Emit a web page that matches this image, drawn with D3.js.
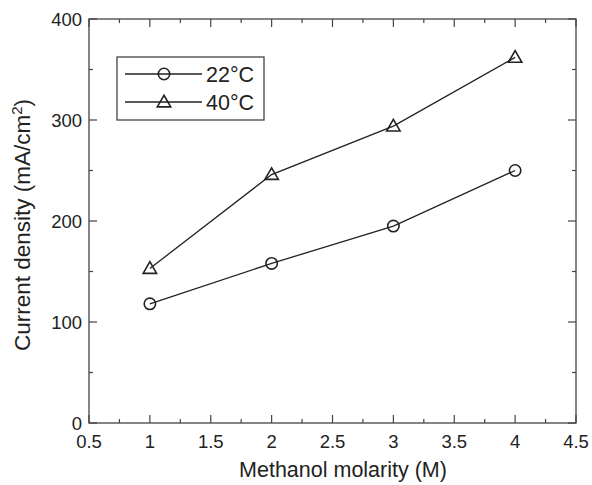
<!DOCTYPE html>
<html><head><meta charset="utf-8">
<script src="https://cdn.jsdelivr.net/npm/d3@7"></script>
<style>body{margin:0;background:#fff}svg{display:block;font-family:"Liberation Sans",Arial,sans-serif}</style>
</head><body><svg id="c" width="592" height="485"></svg>
<script>
const molarity = [1, 2, 3, 4];
const series22 = [118, 158, 195, 250];
const series40 = [153, 246, 294, 362];
const seriesNames = ["22°C", "40°C"];
const xTicks = [0.5, 1, 1.5, 2, 2.5, 3, 3.5, 4, 4.5];
const yTicks = [0, 100, 200, 300, 400];

const svg = d3.select("#c");
const L = 89, R = 576, T = 19, B = 423;
const x = d3.scaleLinear().domain([0.5, 4.5]).range([L, R]);
const y = d3.scaleLinear().domain([0, 400]).range([B, T]);
const col = "#222";

// frame
svg.append("rect").attr("x", L).attr("y", T).attr("width", R - L).attr("height", B - T)
  .attr("fill", "none").attr("stroke", "#444").attr("stroke-width", 1.3);

const xMinor = d3.range(0.75, 4.5, 0.5);
const yMinor = d3.range(50, 400, 100);
const tk = svg.append("g").attr("stroke", "#444").attr("stroke-width", 1.2);
xTicks.forEach(v => {
  tk.append("line").attr("x1", x(v)).attr("x2", x(v)).attr("y1", B).attr("y2", B - 8);
  tk.append("line").attr("x1", x(v)).attr("x2", x(v)).attr("y1", T).attr("y2", T + 8);
});
xMinor.forEach(v => {
  tk.append("line").attr("x1", x(v)).attr("x2", x(v)).attr("y1", B).attr("y2", B - 4);
  tk.append("line").attr("x1", x(v)).attr("x2", x(v)).attr("y1", T).attr("y2", T + 4);
});
yTicks.forEach(v => {
  tk.append("line").attr("x1", L).attr("x2", L + 8).attr("y1", y(v)).attr("y2", y(v));
  tk.append("line").attr("x1", R).attr("x2", R - 8).attr("y1", y(v)).attr("y2", y(v));
});
yMinor.forEach(v => {
  tk.append("line").attr("x1", L).attr("x2", L + 4).attr("y1", y(v)).attr("y2", y(v));
  tk.append("line").attr("x1", R).attr("x2", R - 4).attr("y1", y(v)).attr("y2", y(v));
});

// tick labels
svg.append("g").selectAll("text").data(xTicks).join("text")
  .attr("x", d => x(d)).attr("y", 448).attr("text-anchor", "middle")
  .attr("font-size", 18.5).attr("fill", "#222").text(d => d);
svg.append("g").selectAll("text").data(yTicks).join("text")
  .attr("x", L - 7).attr("y", d => y(d)).attr("dy", "0.36em").attr("text-anchor", "end")
  .attr("font-size", 18.5).attr("fill", "#222").text(d => d);

// axis titles
svg.append("text").attr("x", 343).attr("y", 477).attr("text-anchor", "middle")
  .attr("font-size", 21.5).attr("fill", "#222").text("Methanol molarity (M)");
const yt = svg.append("text").attr("transform", `translate(30,225) rotate(-90)`)
  .attr("text-anchor", "middle").attr("font-size", 22.5).attr("fill", "#222");
yt.append("tspan").text("Current density (mA/cm");
yt.append("tspan").attr("dy", -8).attr("font-size", 15).text("2");
yt.append("tspan").attr("dy", 8).text(")");

// lines
const line = d3.line().x((d, i) => x(molarity[i])).y(d => y(d));
[series22, series40].forEach(s => {
  svg.append("path").datum(s).attr("d", line).attr("fill", "none")
    .attr("stroke", col).attr("stroke-width", 1.3);
});
const tri = d3.symbol().type(d3.symbolTriangle).size(78);
function circ(g, cx, cy) {
  g.append("circle").attr("cx", cx).attr("cy", cy).attr("r", 5.7)
    .attr("fill", "none").attr("stroke", col).attr("stroke-width", 1.6);
}
function triangle(g, cx, cy) {
  g.append("path").attr("d", tri).attr("transform", `translate(${cx},${cy + 1})`)
    .attr("fill", "none").attr("stroke", col).attr("stroke-width", 1.6);
}
const mk = svg.append("g");
series22.forEach((v, i) => circ(mk, x(molarity[i]), y(v)));
series40.forEach((v, i) => triangle(mk, x(molarity[i]), y(v)));

// legend
const lg = svg.append("g");
lg.append("rect").attr("x", 117).attr("y", 57).attr("width", 147).attr("height", 63)
  .attr("fill", "#fff").attr("stroke", "#444").attr("stroke-width", 1.3);
[74, 102].forEach((ly, i) => {
  lg.append("line").attr("x1", 125).attr("x2", 202).attr("y1", ly).attr("y2", ly)
    .attr("stroke", col).attr("stroke-width", 1.3);
  if (i === 0) circ(lg, 164, ly); else triangle(lg, 164, ly);
  lg.append("text").attr("x", 206).attr("y", ly).attr("dy", "0.36em")
    .attr("font-size", 21.5).attr("fill", "#222").text(seriesNames[i]);
});
</script></body></html>
